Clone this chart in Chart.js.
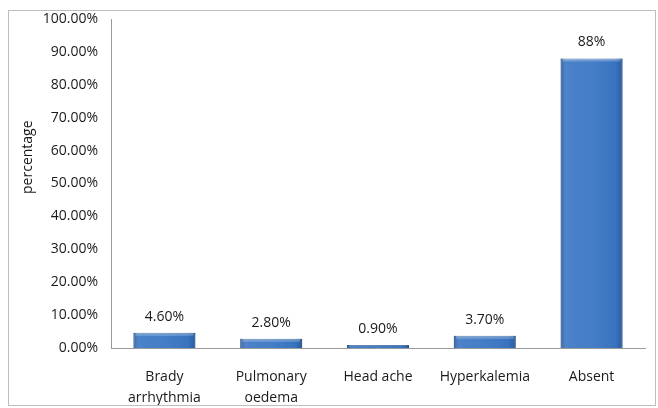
<!DOCTYPE html>
<html>
<head>
<meta charset="utf-8">
<script src="https://cdn.jsdelivr.net/npm/chart.js@4"></script>
<style>
  body { margin: 0; background: #fff; }
  #box { position: absolute; left: 8px; top: 10px; width: 646px; height: 394px; border: 1px solid #bdbdbd; }
</style>
</head>
<body>
<div id="box"><canvas id="chart" width="646" height="394"></canvas></div>
<script>
// categories and values (percent)
const categories = [["Brady", "arrhythmia"], ["Pulmonary", "oedema"], "Head ache", "Hyperkalemia", "Absent"];
const values = [4.6, 2.8, 0.9, 3.7, 88];
const valueLabels = ["4.60%", "2.80%", "0.90%", "3.70%", "88%"];
const yTitle = "percentage";

const FONT = "'Open Sans', 'Liberation Sans', sans-serif";
const TEXT = "#1a1a1a";

// writes the value above each bar, adds bevel shading, draws the y title
const barExtras = {
  id: "barExtras",
  afterDatasetsDraw(chart) {
    const ctx = chart.ctx;
    const meta = chart.getDatasetMeta(0);
    meta.data.forEach((bar, i) => {
      const left = bar.x - bar.width / 2;
      const right = bar.x + bar.width / 2;
      const h = bar.base - bar.y;
      const g = ctx.createLinearGradient(left, 0, right, 0);
      g.addColorStop(0, "rgba(20,50,100,0.35)");
      g.addColorStop(0.12, "rgba(255,255,255,0.08)");
      g.addColorStop(0.5, "rgba(255,255,255,0.05)");
      g.addColorStop(0.88, "rgba(20,50,100,0.05)");
      g.addColorStop(1, "rgba(20,50,100,0.4)");
      ctx.save();
      ctx.fillStyle = g;
      ctx.fillRect(left, bar.y, bar.width, h);
      const t = Math.min(3, h / 3);
      ctx.fillStyle = "rgba(255,255,255,0.22)";
      ctx.fillRect(left + 2, bar.y, bar.width - 4, t);
      ctx.fillStyle = TEXT;
      ctx.font = "14px " + FONT;
      ctx.textAlign = "center";
      ctx.textBaseline = "bottom";
      ctx.fillText(valueLabels[i], bar.x, bar.y - 9);
      ctx.restore();
    });
    // y axis title, placed a little above the middle as in the original
    const area = chart.chartArea;
    ctx.save();
    ctx.translate(19, area.top + (area.bottom - area.top) * 0.42);
    ctx.rotate(-Math.PI / 2);
    ctx.fillStyle = TEXT;
    ctx.font = "14px " + FONT;
    ctx.textAlign = "center";
    ctx.textBaseline = "middle";
    ctx.fillText(yTitle, 0, 0);
    ctx.restore();
  }
};

new Chart(document.getElementById("chart"), {
  type: "bar",
  data: {
    labels: categories,
    datasets: [{
      data: values,
      backgroundColor: "#3b77c4",
      borderColor: "#2d5c98",
      borderWidth: 1,
      barPercentage: 0.58,
      categoryPercentage: 1
    }]
  },
  options: {
    responsive: false,
    animation: false,
    layout: { padding: { top: 8, right: 10, left: 0, bottom: 0 } },
    plugins: {
      legend: { display: false },
      tooltip: { enabled: false }
    },
    scales: {
      x: {
        grid: { display: false, drawTicks: false },
        border: { color: "#9a9a9a" },
        ticks: { color: TEXT, font: { family: FONT, size: 14, lineHeight: 1.5 }, padding: 19, maxRotation: 0 },
        afterFit(scale) { scale.height = 57; }
      },
      y: {
        min: 0,
        max: 100,
        grid: { display: false, drawTicks: false },
        border: { color: "#9a9a9a" },
        ticks: {
          stepSize: 10,
          color: TEXT,
          font: { family: FONT, size: 14 },
          padding: 13,
          callback: (v) => v.toFixed(2) + "%"
        },
        afterFit(scale) {
          scale.width = 102;
          // tick padding should not push the plot down
          scale.paddingTop = 0;
          scale.paddingBottom = 0;
        }
      }
    }
  },
  plugins: [barExtras]
});
</script>
</body>
</html>
